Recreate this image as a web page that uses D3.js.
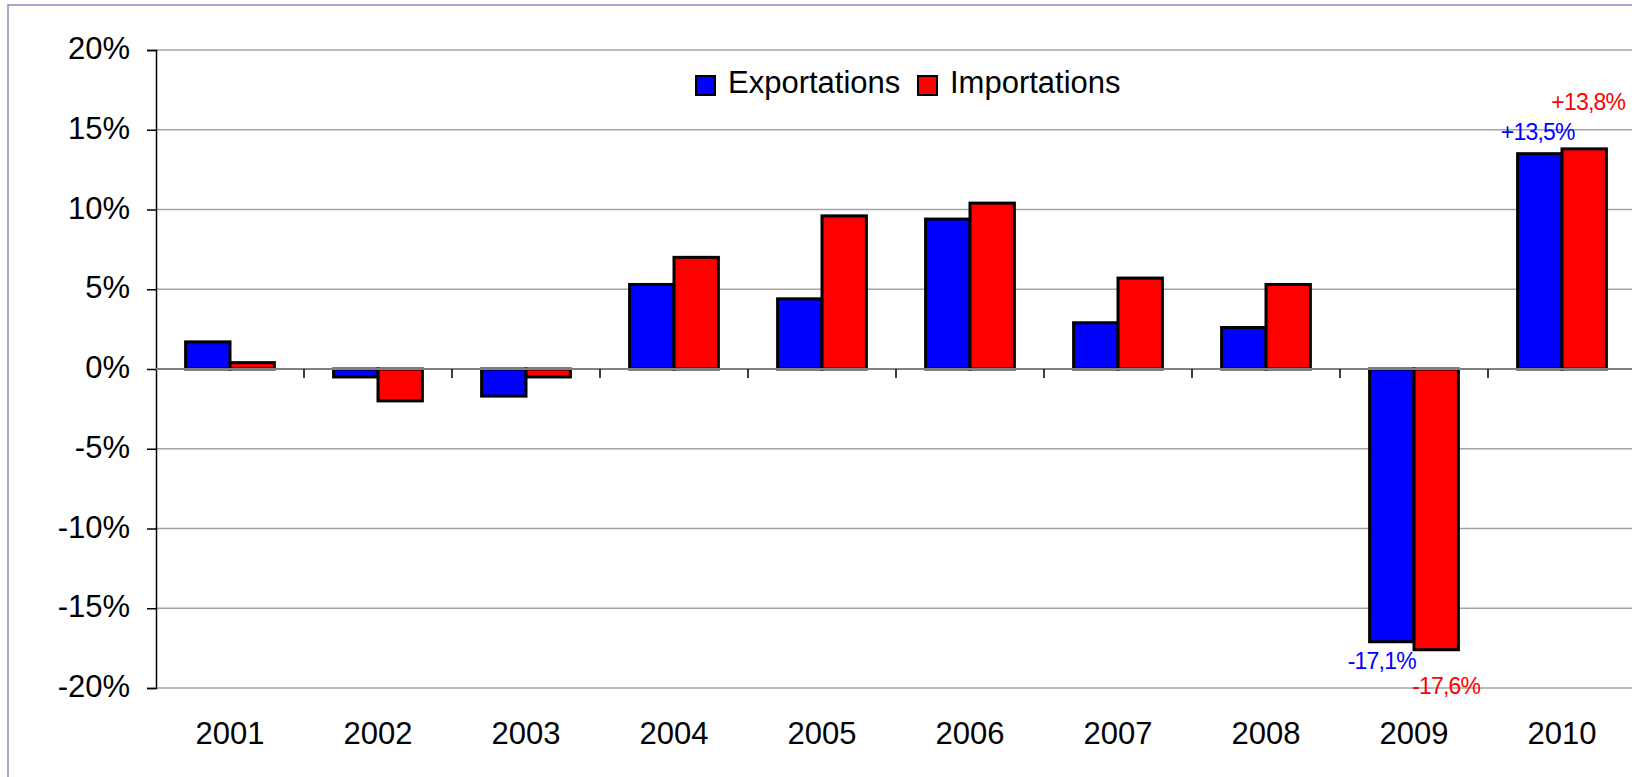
<!DOCTYPE html>
<html>
<head>
<meta charset="utf-8">
<script src="https://cdn.jsdelivr.net/npm/d3@7"></script>
<style>
  html, body { margin: 0; padding: 0; background: #fff; }
  svg { display: block; font-family: "Liberation Sans", Arial, sans-serif; }
</style>
</head>
<body>
<svg id="chart" width="1632" height="777"></svg>
<script>
// ---- data ----
const years = ["2001","2002","2003","2004","2005","2006","2007","2008","2009","2010"];
const exportations = [1.7, -0.5, -1.7, 5.3, 4.4, 9.4, 2.9, 2.6, -17.1, 13.5];
const importations = [0.4, -2.0, -0.5, 7.0, 9.6, 10.4, 5.7, 5.3, -17.6, 13.8];
const seriesNames = ["Exportations", "Importations"];
const seriesColors = ["#0000ff", "#ff0000"];
const yTicks = [-20, -15, -10, -5, 0, 5, 10, 15, 20];
// data labels: [series index, year]
const labelled = [[0, "2010"], [1, "2010"], [0, "2009"], [1, "2009"]];

// ---- layout ----
const svg = d3.select("#chart");
const plotLeft = 156, plotRight = 1636, plotTop = 50, plotBottom = 688;

const x = d3.scaleBand().domain(years).range([plotLeft, plotRight]).paddingInner(0).paddingOuter(0);
const y = d3.scaleLinear().domain([-20, 20]).range([plotBottom, plotTop]);
const barW = x.bandwidth() * 0.3;

// frame
svg.append("rect")
  .attr("x", 8).attr("y", 5).attr("width", 1700).attr("height", 900)
  .attr("fill", "#fff").attr("stroke", "#8a8ac4").attr("stroke-width", 1.5);

// gridlines
svg.append("g").selectAll("line").data(yTicks.filter(d => d !== 0)).join("line")
  .attr("x1", plotLeft).attr("x2", plotRight)
  .attr("y1", d => y(d)).attr("y2", d => y(d))
  .attr("stroke", "#a3a3a3").attr("stroke-width", 1.5);

// y axis
const yAxis = svg.append("g")
  .attr("transform", `translate(${plotLeft},0)`)
  .call(d3.axisLeft(y).tickValues(yTicks).tickFormat(d => d + "%").tickSize(9).tickPadding(17));
yAxis.select(".domain").attr("stroke", "#000").attr("stroke-width", 1.5);
yAxis.selectAll(".tick line").attr("stroke", "#000").attr("stroke-width", 1.5);
yAxis.selectAll(".tick text")
  .attr("font-size", 31).attr("font-family", "Liberation Sans, Arial, sans-serif")
  .attr("fill", "#000").attr("dy", "0.28em");

// bars
const series = [exportations, importations];
series.forEach((vals, si) => {
  svg.append("g").selectAll("rect").data(years).join("rect")
    .attr("x", (d) => x(d) + x.bandwidth() / 2 - barW + si * barW)
    .attr("width", barW)
    .attr("y", (d, i) => y(Math.max(0, vals[i])))
    .attr("height", (d, i) => Math.abs(y(vals[i]) - y(0)))
    .attr("fill", seriesColors[si])
    .attr("stroke", "#000").attr("stroke-width", 3);
});

// zero line
svg.append("line")
  .attr("x1", plotLeft).attr("x2", plotRight)
  .attr("y1", y(0)).attr("y2", y(0))
  .attr("stroke", "#808080").attr("stroke-width", 2);

// category tick marks at zero line
svg.append("g").selectAll("line").data(years.slice(1)).join("line")
  .attr("x1", d => x(d)).attr("x2", d => x(d))
  .attr("y1", y(0)).attr("y2", y(0) + 9)
  .attr("stroke", "#000").attr("stroke-width", 1.5);

// x axis labels
const xAxis = svg.append("g")
  .attr("transform", `translate(0,${plotBottom})`)
  .call(d3.axisBottom(x).tickSize(0).tickPadding(0));
xAxis.select(".domain").remove();
xAxis.selectAll(".tick text")
  .attr("font-size", 31).attr("font-family", "Liberation Sans, Arial, sans-serif")
  .attr("fill", "#000").attr("dy", 0).attr("y", 56);

// legend
const legendItems = [{x: 696, tx: 728}, {x: 918, tx: 950}];
const leg = svg.append("g");
seriesNames.forEach((name, i) => {
  leg.append("rect").attr("x", legendItems[i].x).attr("y", 76).attr("width", 19).attr("height", 19)
    .attr("fill", seriesColors[i]).attr("stroke", "#000").attr("stroke-width", 2);
  leg.append("text").attr("x", legendItems[i].tx).attr("y", 93)
    .attr("font-size", 31).attr("fill", "#000").text(name);
});

// data labels
const fmt = v => (v > 0 ? "+" : "-") + Math.abs(v).toFixed(1).replace(".", ",") + "%";
const labelOffsets = {
  "0-2010": {dx: -2, dy: -14},
  "1-2010": {dx: 4, dy: -39},
  "0-2009": {dx: -10, dy: 27},
  "1-2009": {dx: 10, dy: 44}
};
svg.append("g").selectAll("text").data(labelled).join("text")
  .each(function([si, yr]) {
    const i = years.indexOf(yr);
    const v = series[si][i];
    const cx = x(yr) + x.bandwidth() / 2 - barW + si * barW + barW / 2;
    const off = labelOffsets[si + "-" + yr];
    d3.select(this)
      .attr("x", cx + off.dx)
      .attr("y", y(v) + off.dy)
      .attr("text-anchor", "middle")
      .attr("font-size", 23)
      .attr("letter-spacing", -0.8)
      .attr("fill", seriesColors[si])
      .text(fmt(v));
  });
</script>
</body>
</html>
